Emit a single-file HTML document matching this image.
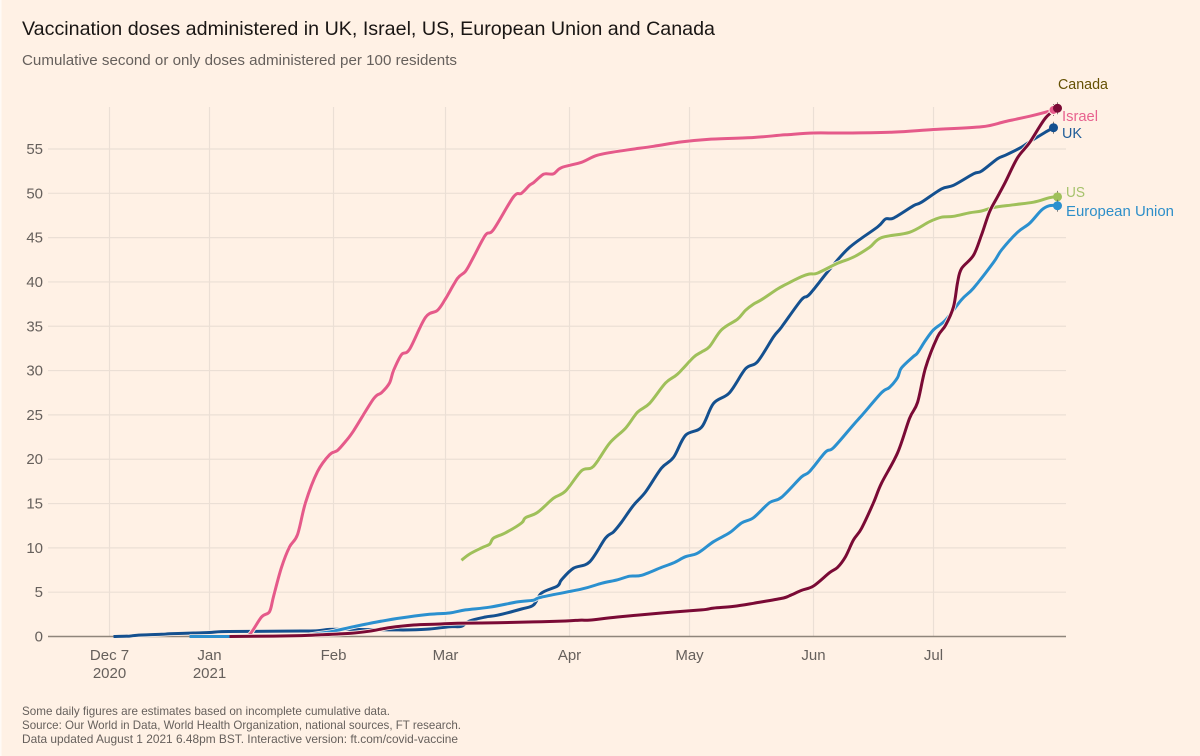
<!DOCTYPE html>
<html lang="en">
<head>
<meta charset="utf-8">
<title>Vaccination doses administered</title>
<style>
html,body{margin:0;padding:0;background:#fff1e5;}
svg{display:block;font-family:"Liberation Sans",sans-serif;}
.tick{font-size:15px;fill:#66605c;}
.foot{font-size:12px;fill:#66605c;}
.lab{font-size:15px;}
</style>
</head>
<body>
<svg id="chart" width="1200" height="756" viewBox="0 0 1200 756" xmlns="http://www.w3.org/2000/svg">
  <rect x="0" y="0" width="1200" height="756" fill="#fff1e5"/>
  <rect x="0" y="0" width="1.5" height="756" fill="#fffaf6"/>
  <text x="22" y="35" font-size="19.5" fill="#1a1614" textLength="693" lengthAdjust="spacingAndGlyphs">Vaccination doses administered in UK, Israel, US, European Union and Canada</text>
  <text x="22" y="65" font-size="15" fill="#66605c" textLength="435" lengthAdjust="spacingAndGlyphs">Cumulative second or only doses administered per 100 residents</text>
  <g id="grid"></g>
  <g id="axes"></g>
  <g id="series"></g>
  <g id="dots"></g>
  <text class="lab" x="1058" y="89" fill="#655104" textLength="50" lengthAdjust="spacingAndGlyphs">Canada</text>
  <text class="lab" x="1062" y="121" fill="#e8628f" textLength="36" lengthAdjust="spacingAndGlyphs">Israel</text>
  <text class="lab" x="1062" y="138" fill="#1f5c99" textLength="20" lengthAdjust="spacingAndGlyphs">UK</text>
  <text class="lab" x="1066" y="197" fill="#a5c26b" textLength="19" lengthAdjust="spacingAndGlyphs">US</text>
  <text class="lab" x="1066" y="216" fill="#2e8fc9" textLength="108" lengthAdjust="spacingAndGlyphs">European Union</text>
  <text class="foot" x="22" y="715" textLength="368" lengthAdjust="spacingAndGlyphs">Some daily figures are estimates based on incomplete cumulative data.</text>
  <text class="foot" x="22" y="729" textLength="439" lengthAdjust="spacingAndGlyphs">Source: Our World in Data, World Health Organization, national sources, FT research.</text>
  <text class="foot" x="22" y="743" textLength="436" lengthAdjust="spacingAndGlyphs">Data updated August 1 2021 6.48pm BST. Interactive version: ft.com/covid-vaccine</text>
</svg>
<script>
// Days are counted from Dec 7 2020; values are doses per 100 residents.
const yTickValues = [0,5,10,15,20,25,30,35,40,45,50,55];
const xTickDays = [0,25,56,84,115,145,176,206];
const xTickLine1 = ["Dec 7","Jan","Feb","Mar","Apr","May","Jun","Jul"];
const xTickLine2 = ["2020","2021","","","","","",""];

const ukDays = [1,5,7,13,15,21,25,28,35,40,48,52,55,60,70,75,80,85,88,90,94,97,103,106,108,112,113,116,120,124,126,128,131,134,138,141,144,148,151,155,159,162,166,168,173,175,180,185,192,194,196,201,203,208,211,216,218,222,224,228,230,234,236];
const ukValues = [0,0.05,0.15,0.25,0.3,0.4,0.45,0.55,0.58,0.6,0.62,0.65,0.8,0.8,0.75,0.75,0.85,1.1,1.15,1.75,2.2,2.4,3.1,3.55,4.9,5.7,6.4,7.7,8.4,11.1,11.8,12.9,14.8,16.3,19.0,20.2,22.7,23.6,26.3,27.5,30.2,31.0,33.8,34.9,38.0,38.6,41.4,43.9,46.2,47.1,47.2,48.6,49.0,50.5,50.9,52.2,52.5,53.9,54.3,55.2,55.8,56.9,57.4];

const israelDays = [33,35,38,40,41,43,45,47,49,52,55,57,59,61,66,68,70,71,73,75,79,82,84,87,89,91,94,96,101,103,105,106,108,109,111,113,118,122,128,136,143,150,161,169,176,184,196,206,218,224,231,236];
const israelValues = [0,0.2,2.2,2.8,4.5,7.8,10.1,11.5,15.1,18.6,20.5,21.0,22.0,23.2,26.8,27.5,28.6,30.0,31.8,32.4,36.0,36.8,38.1,40.4,41.2,42.8,45.3,45.9,49.6,50.0,50.9,51.2,52.0,52.2,52.2,52.9,53.5,54.3,54.8,55.3,55.8,56.1,56.3,56.6,56.8,56.8,56.9,57.2,57.5,58.1,58.8,59.4];

const usDays = [88,90,93,95,96,99,103,104,107,111,114,118,121,125,129,132,135,139,142,146,148,150,153,157,159,161,163,167,169,173,175,177,182,186,190,193,200,205,208,211,215,218,221,226,231,235,237];
const usValues = [8.6,9.3,10.0,10.4,11.1,11.7,12.8,13.4,14.0,15.6,16.4,18.7,19.2,21.8,23.5,25.3,26.3,28.6,29.6,31.5,32.1,32.7,34.6,35.8,36.8,37.5,38.0,39.2,39.7,40.6,40.9,41.0,42.1,42.8,43.9,45.0,45.6,46.8,47.3,47.4,47.8,48.0,48.4,48.7,49.0,49.5,49.6];

const euDays = [20,30,41,48,53,56,61,67,73,80,85,89,95,102,106,108,118,123,127,130,133,138,141,144,147,151,155,158,161,165,168,173,175,179,181,186,188,193,195,197,198,201,202,204,206,209,213,216,221,223,227,230,233,235,237];
const euValues = [0,0,0.05,0.1,0.4,0.6,1.1,1.65,2.1,2.5,2.65,3.0,3.3,3.9,4.1,4.45,5.35,6.0,6.4,6.8,6.9,7.8,8.3,9.0,9.4,10.7,11.7,12.8,13.4,15.1,15.7,18.0,18.6,20.8,21.3,23.9,24.9,27.5,28.1,29.2,30.3,31.6,32.0,33.4,34.6,35.7,38.0,39.3,42.2,43.6,45.6,46.6,48.1,48.6,48.6];

const canadaDays = [30,41,48,53,60,65,70,76,82,87,97,106,114,118,120,127,138,148,151,156,161,168,170,173,176,180,182,184,186,188,191,193,197,200,202,204,207,209,211,212,213,216,218,220,222,224,227,230,234,237];
const canadaValues = [0,0.05,0.1,0.2,0.35,0.6,1.0,1.3,1.4,1.5,1.55,1.65,1.75,1.85,1.85,2.2,2.65,3.0,3.2,3.4,3.75,4.3,4.6,5.2,5.7,7.2,7.8,9.0,10.9,12.2,15.1,17.3,20.7,24.6,26.4,30.3,33.8,35.1,37.2,39.9,41.5,43.0,45.3,47.9,49.6,51.3,54.0,55.7,58.5,59.6];

const NS = "http://www.w3.org/2000/svg";
function xScale(day){ return 109.5 + 4 * day; }
function yScale(v){ return 636.5 - 8.864 * v; }
function make(tag, attrs, parent){
  const el = document.createElementNS(NS, tag);
  for (const k in attrs) el.setAttribute(k, attrs[k]);
  parent.appendChild(el);
  return el;
}
// Smooth path through all points (Catmull-Rom to cubic Bezier).
function smoothPath(days, values){
  const p = days.map(function(d, i){ return [xScale(d), yScale(values[i])]; });
  let s = "M" + p[0][0].toFixed(1) + " " + p[0][1].toFixed(1);
  for (let i = 0; i < p.length - 1; i++) {
    const a = p[Math.max(i - 1, 0)], b = p[i], c = p[i + 1], d = p[Math.min(i + 2, p.length - 1)];
    const c1x = b[0] + (c[0] - a[0]) / 6, c1y = b[1] + (c[1] - a[1]) / 6;
    const c2x = c[0] - (d[0] - b[0]) / 6, c2y = c[1] - (d[1] - b[1]) / 6;
    s += "C" + c1x.toFixed(1) + " " + c1y.toFixed(1) + " " + c2x.toFixed(1) + " " + c2y.toFixed(1) + " " + c[0].toFixed(1) + " " + c[1].toFixed(1);
  }
  return s;
}
const grid = document.getElementById("grid");
const axes = document.getElementById("axes");
const seriesG = document.getElementById("series");
const dotsG = document.getElementById("dots");

xTickDays.forEach(function(d, i){
  const x = xScale(d);
  const line = make("line", {x1:x, x2:x, y1:107, y2:636, stroke:"#ebdfd5", "stroke-width":1.2}, grid);
  
  
  const t1 = make("text", {x:x, y:660, class:"tick", "text-anchor":"middle"}, axes);
  
  
  t1.textContent = xTickLine1[i];
  if (xTickLine2[i]) {
    const t2 = make("text", {x:x, y:678, class:"tick", "text-anchor":"middle"}, axes);
    
    
    t2.textContent = xTickLine2[i];
  }
});
yTickValues.forEach(function(v){
  const y = yScale(v);
  const line = make("line", {x1:48, x2:1066, y1:y, y2:y, stroke: v === 0 ? "#8f857b" : "#ebdfd5", "stroke-width": v === 0 ? 1.6 : 1.2}, grid);
  
  
  const t = make("text", {x:43, y:y + 5, class:"tick", "text-anchor":"end"}, axes);
  
  
  t.textContent = v;
});

function drawSeries(key, days, values, color, ring){
  const d = smoothPath(days, values);
  const halo = make("path", {d:d, fill:"none", stroke:"#fff1e5", "stroke-width":4.6, "stroke-linejoin":"round"}, seriesG);
  
  
  const line = make("path", {d:d, fill:"none", stroke:color, "stroke-width":3, "stroke-linejoin":"round"}, seriesG);
  
  
  const n = days.length - 1;
  const cx = xScale(days[n]), cy = yScale(values[n]);
  const stem = make("line", {x1:cx, x2:cx, y1:cy - 6, y2:cy + 6, stroke:"#6a6058", "stroke-width":0.8}, dotsG);
  
  
  const dot = make("circle", {cx:cx, cy:cy, r:4.5, fill:color}, dotsG);
  if (ring) dot.setAttribute("stroke", "#fff1e5");
  
  
}
drawSeries("uk", ukDays, ukValues, "#14508f", false);
drawSeries("israel", israelDays, israelValues, "#e55a8a", true);
drawSeries("us", usDays, usValues, "#9fc05a", false);
drawSeries("eu", euDays, euValues, "#2b90cf", false);
drawSeries("canada", canadaDays, canadaValues, "#7a0a35", false);
</script>
</body>
</html>
